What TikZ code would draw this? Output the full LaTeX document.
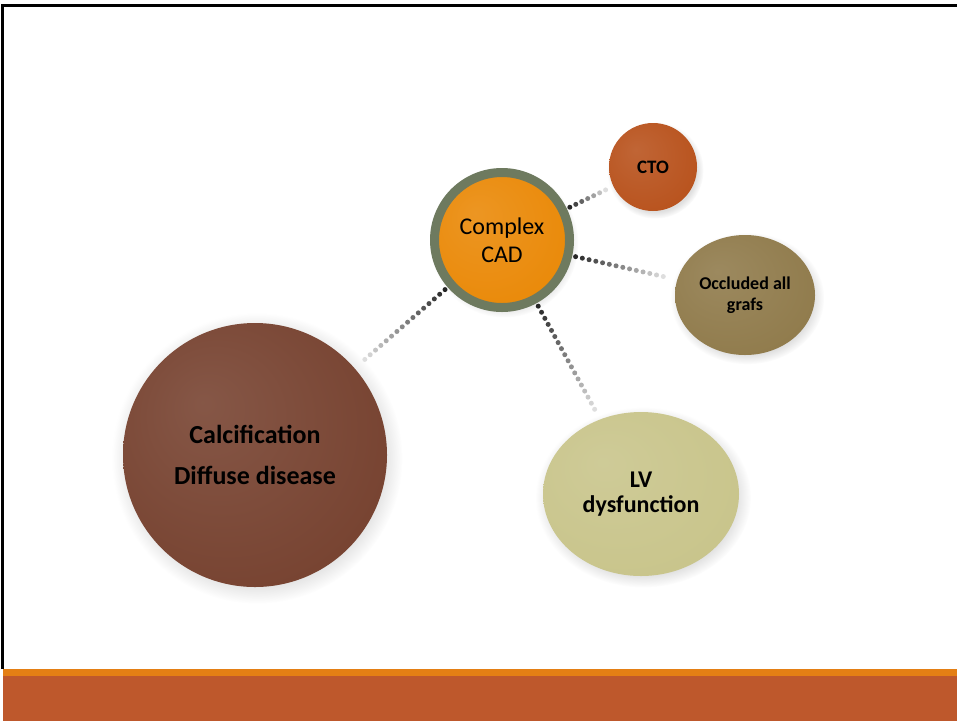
\documentclass[tikz,border=0pt]{standalone}
\usepackage{fontspec}
\setmainfont{Carlito}
\usetikzlibrary{shapes.geometric,shadows,calc}

\definecolor{ringgreen}{HTML}{6E7A5F}
\definecolor{stripeorange}{HTML}{E47F14}
\definecolor{footrust}{HTML}{BE582C}
\definecolor{calcbody}{HTML}{784432}
\definecolor{calcrim}{HTML}{45261A}
\definecolor{cadbody}{HTML}{EA8A0A}
\definecolor{cadrim}{HTML}{A85800}
\definecolor{ctobody}{HTML}{B9541F}
\definecolor{ctorim}{HTML}{742C0E}
\definecolor{occlbody}{HTML}{917C4D}
\definecolor{occlrim}{HTML}{5A4A28}
\definecolor{lvbody}{HTML}{C9C58C}
\definecolor{lvrim}{HTML}{96925A}
\colorlet{bodycol}{black}
\colorlet{rimcol}{black}
\pgfdeclareradialshading[bodycol,rimcol]{glossy}{\pgfpoint{-10bp}{10bp}}{color(0bp)=(bodycol!90!white); color(30bp)=(bodycol); color(42bp)=(bodycol!88!black); color(50bp)=(rimcol)}

\begin{document}
\begin{tikzpicture}[x=1pt, y=-1pt,
bubble/.style={/utils/exec={\colorlet{bodycol}{#1body}\colorlet{rimcol}{#1rim}}, shading=glossy, circular drop shadow={shadow xshift=2pt, shadow yshift=-3pt, opacity=0.25}, text=black, align=center, inner sep=0pt},
roundnode/.style={circle, minimum size=#1},
ovalnode/.style 2 args={ellipse, minimum width=#1, minimum height=#2}
]
    \useasboundingbox (0,0) rectangle (957,721);

    % slide frame and footer
    \fill[stripeorange] (3,669) rectangle (957,676);
    \fill[footrust] (3,676) rectangle (957,721);
    \draw[line width=3pt] (2.5,669) -- (2.5,5.5) -- (957,5.5);

    \node[roundnode=264pt, bubble=calc, font=\bfseries\fontsize{26pt}{41pt}\selectfont] (calc) at (255,455) {Calcification\\Diffuse disease};
    \node[roundnode=135pt, bubble=cad, draw=ringgreen, line width=9pt, font=\fontsize{24pt}{28pt}\selectfont] (cad) at (502,240) {Complex\\CAD};
    \node[roundnode=88pt, bubble=cto, font=\bfseries\fontsize{19pt}{20pt}\selectfont] (cto) at (653,167) {CTO};
    \node[ovalnode={140pt}{120pt}, bubble=occl, font=\bfseries\fontsize{18pt}{21pt}\selectfont] (occl) at (745,295) {Occluded all\\grafs};
    \node[ovalnode={196pt}{164pt}, bubble=lv, font=\bfseries\fontsize{24pt}{25pt}\selectfont] (lv) at (641,494) {LV\\dysfunction};

    % fading dotted links
    \foreach \tgt/\n/\far in {calc/15/0.92, cto/6/0.9, occl/13/0.9, lv/17/0.94}{
        \path (cad) -- (\tgt) coordinate[pos=0] (linkstart) coordinate[pos=\far] (linkend);
        \foreach \k in {0,...,\n}{
            \pgfmathsetmacro\dotpos{(\k+0.5)/(\n+1)}
            \pgfmathsetmacro\dotgray{85-72*\k/\n}
            \fill[black!\dotgray] ($(linkstart)!\dotpos!(linkend)$) circle (2.5pt);
        }
    }
\end{tikzpicture}
\end{document}
